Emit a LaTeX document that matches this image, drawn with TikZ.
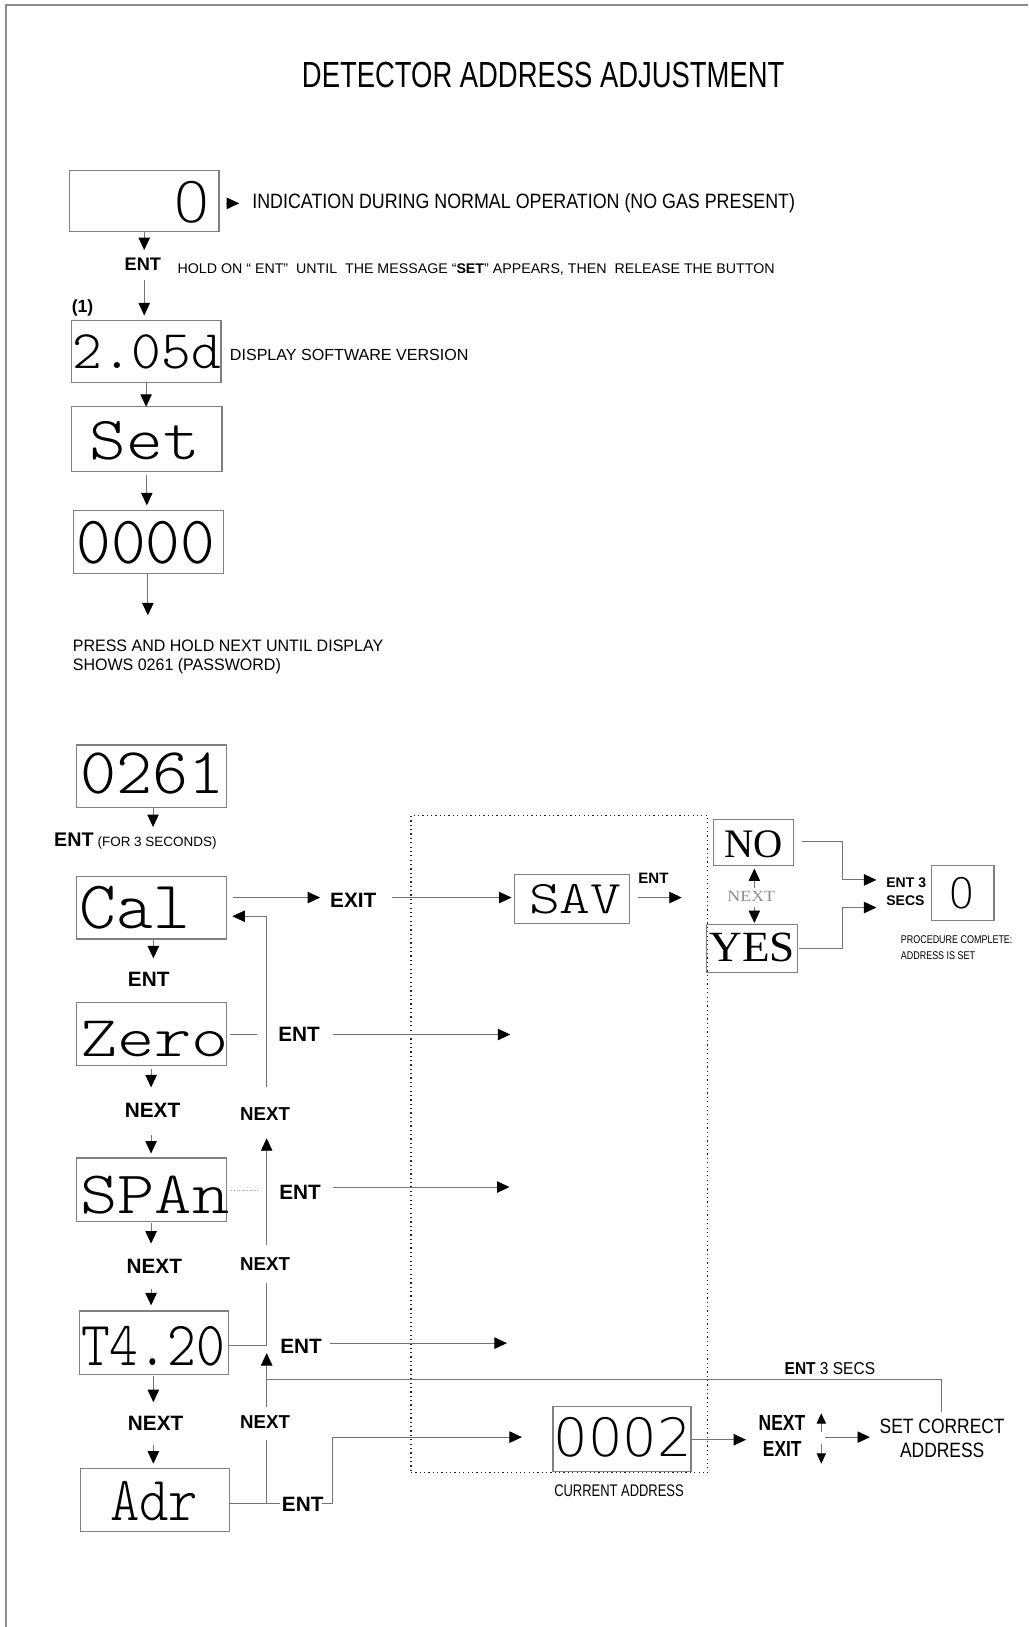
\documentclass[tikz,border=0pt]{standalone}
\usepackage{fontspec}
\usepackage{graphicx}
\usetikzlibrary{arrows.meta}
\setmainfont{Liberation Sans}
\newfontfamily\seriff{Liberation Serif}
\IfFontExistsTF{lmmonolt10-regular.otf}{\newfontfamily\dispf{lmmonolt10-regular.otf}}{\newfontfamily\dispf{Latin Modern Mono}}
\IfFontExistsTF{DejaVu Sans ExtraLight}{\newfontfamily\thinf{DejaVu Sans ExtraLight}}{\newfontfamily\thinf{Liberation Sans}}
\newcommand\fs[1]{\fontsize{#1}{#1}\selectfont}
\newcommand\sx[2]{\scalebox{#1}[1]{#2}}
\definecolor{boxgray}{gray}{0.5}
\definecolor{linegray}{gray}{0.45}
\definecolor{framegray}{gray}{0.55}
\begin{document}
\begin{tikzpicture}[x=1pt,y=-1pt,
  box/.style={draw=boxgray,line width=1.1pt,inner sep=0pt},
  lab/.style={inner sep=0pt,anchor=base west},
  labc/.style={inner sep=0pt,anchor=base},
  con/.style={draw=linegray,line width=0.9pt},
  arr/.style={con,-{Triangle[length=12pt,width=11pt,color=black]}},
  sarr/.style={con,-{Triangle[length=10pt,width=9pt,color=black]}},
  grpstyle/.style={draw=black!85,line width=1.4pt,dash pattern=on 1.2pt off 3pt,inner sep=0pt}
]
\useasboundingbox (0,0) rectangle (991,1568);
\draw[framegray,line width=1.5pt] (6,1568) -- (6,5) -- (991,5);

% title
\node[labc] (title) at (523.5,84.8) {\fs{35}\sx{0.755}{DETECTOR ADDRESS ADJUSTMENT}};

% upper column boxes
\node[box,minimum width=144pt,minimum height=59pt] (A) at (139,193.5) {};
\node[labc] (Atext) at (185,214) {\thinf\fs{53.5}\sx{1.1}{0}};
\node[box,minimum width=144pt,minimum height=60pt] (B) at (141,338.5) {};
\node[labc] (Btext) at (141.4,355) {\dispf\fs{52.4}\sx{1.04}{2.05d}};
\node[box,minimum width=145pt,minimum height=62pt] (C) at (141.5,423) {};
\node[labc] (Ctext) at (139.5,443) {\dispf\fs{59}\sx{1.14}{Set}};
\node[box,minimum width=144pt,minimum height=61pt] (D) at (143,522.5) {};
\node[labc] (Dtext) at (140.5,543) {\dispf\fs{65.5}\sx{0.97}{0000}};

% upper labels
\node[lab] (ind) at (243,201) {\fs{20}\sx{0.86}{INDICATION DURING NORMAL OPERATION (NO GAS PRESENT)}};
\node[lab] (entA) at (120,261) {\bfseries\fs{17.5}ENT};
\node[lab] (hold) at (171,264) {\fs{13.5}\sx{1.015}{HOLD ON “ ENT”\ \ UNTIL\ \ THE MESSAGE “\textbf{SET}” APPEARS, THEN\ \ RELEASE THE BUTTON}};
\node[lab] (one) at (69,301) {\bfseries\fs{17}(1)};
\node[lab] (disp) at (221.4,347.7) {\fs{15.5}DISPLAY SOFTWARE VERSION};
\node[lab] (press1) at (70,628) {\fs{16}\sx{0.965}{PRESS AND HOLD NEXT UNTIL DISPLAY}};
\node[lab] (press2) at (70,646) {\fs{16}\sx{0.965}{SHOWS 0261 (PASSWORD)}};

% upper connectors
\coordinate (ptri1) at (218,196); \coordinate (ptri2) at (230.5,196);
\draw[arr] (ptri1) -- (ptri2);
\coordinate (p1) at (139,241);
\draw[arr] (A.south) -- (p1);
\coordinate (p2) at (139,270); \coordinate (p3) at (139,304);
\draw[arr] (p2) -- (p3);
\coordinate (p4) at (140.8,369); \coordinate (p5) at (140.8,392);
\draw[arr] (p4) -- (p5);
\coordinate (p6) at (141.5,458); \coordinate (p7) at (141.5,487);
\draw[arr] (p6) -- (p7);
\coordinate (p8) at (142.5,553); \coordinate (p9) at (142.5,593);
\draw[arr] (p8) -- (p9);

% lower column boxes
\node[box,minimum width=144.5pt,minimum height=60pt] (E) at (146.25,748) {};
\node[labc] (Etext) at (147,764.6) {\dispf\fs{63}\sx{1.05}{0261}};
\node[box,minimum width=144.5pt,minimum height=60pt] (F) at (146.25,875) {};
\node[labc] (Ftext) at (130,895) {\dispf\fs{65.5}\sx{1.03}{Cal}};
\node[box,minimum width=144.5pt,minimum height=61pt] (G) at (146.25,996.5) {};
\node[labc] (Gtext) at (149,1018) {\dispf\fs{55.6}\sx{1.23}{Zero}};
\node[box,minimum width=144.5pt,minimum height=61pt] (H) at (146.25,1146.5) {};
\node[labc] (Htext) at (149.3,1169.6) {\dispf\fs{58}\sx{1.18}{SPAn}};
\node[box,minimum width=143.5pt,minimum height=61pt] (I) at (148.25,1294) {};
\node[labc] (Itext) at (147.5,1316) {\dispf\fs{60.6}\sx{0.87}{T4.20}};
\node[box,minimum width=143pt,minimum height=60.6pt] (J) at (149.4,1445.3) {};
\node[labc] (Jtext) at (148.7,1465.4) {\dispf\fs{60.6}\sx{0.89}{Adr}};

% right boxes
\node[grpstyle,minimum width=286pt,minimum height=633pt] (grp) at (539,1102.5) {};
\node[box,minimum width=111.4pt,minimum height=47.4pt] (K) at (551.3,866.3) {};
\node[labc] (Ktext) at (554.5,880.5) {\dispf\fs{45}\sx{1.26}{SAV}};
\node[box,minimum width=76.5pt,minimum height=44pt] (L) at (726.25,812) {};
\node[labc] (Ltext) at (726,826) {\seriff\fs{39}NO};
\node[box,minimum width=87.5pt,minimum height=46pt] (M) at (724.75,914) {};
\node[labc] (Mtext) at (724.8,927) {\seriff\fs{41.5}\sx{1.05}{YES}};
\node[box,minimum width=60pt,minimum height=53pt] (N) at (928,860.5) {};
\node[labc] (Ntext) at (926.5,875.5) {\thinf\fs{40.5}\sx{1.0}{0}};
\node[box,minimum width=133pt,minimum height=63pt] (O) at (599.5,1387) {};
\node[labc] (Otext) at (600.4,1404) {\thinf\fs{50.8}\sx{1.03}{0002}};

% lower labels
\node[lab] (entE) at (52,816) {\bfseries\fs{19}ENT};
\node[lab] (for3) at (93.8,816) {\fs{13}(FOR 3 SECONDS)};
\node[lab] (exit) at (318,875) {\bfseries\fs{20}EXIT};
\node[labc] (entF) at (143.3,950.5) {\bfseries\fs{20}ENT};
\node[labc] (nextG) at (147,1076.6) {\bfseries\fs{20}NEXT};
\node[labc] (nextH) at (148.7,1227) {\bfseries\fs{20}NEXT};
\node[labc] (nextI) at (150,1379) {\bfseries\fs{20}NEXT};
\node[lab] (entG) at (268,1004) {\bfseries\fs{20}ENT};
\node[lab] (entH) at (269,1156) {\bfseries\fs{20}ENT};
\node[lab] (entI) at (270,1304.7) {\bfseries\fs{20}ENT};
\node[lab] (entJ) at (271.5,1457) {\bfseries\fs{20}ENT};
\node[labc] (nv1) at (255.5,1080) {\bfseries\fs{18}NEXT};
\node[labc] (nv2) at (255.5,1224) {\bfseries\fs{18}NEXT};
\node[labc] (nv3) at (255.5,1376.7) {\bfseries\fs{18}NEXT};
\node[lab] (entK) at (615,851.5) {\bfseries\fs{14.5}ENT};
\node[labc,text=black!45] (nextLM) at (724,869) {\seriff\fs{15}\sx{1.15}{NEXT}};
\node[lab] (ent3) at (854,855) {\bfseries\fs{13.5}ENT 3};
\node[lab] (secs) at (854,873) {\bfseries\fs{13.5}SECS};
\node[lab] (proc1) at (868,909) {\fs{10.8}\sx{0.8}{PROCEDURE COMPLETE:}};
\node[lab] (proc2) at (868,924.6) {\fs{10.8}\sx{0.8}{ADDRESS IS SET}};
\node[lab] (ent3s) at (756,1324.5) {\fs{16.6}\sx{0.9}{\textbf{ENT} 3 SECS}};
\node[lab] (nextO) at (731,1379) {\bfseries\fs{21}\sx{0.8}{NEXT}};
\node[lab] (exitO) at (735,1403.5) {\bfseries\fs{21}\sx{0.8}{EXIT}};
\node[labc] (setc1) at (908,1381.6) {\fs{20}\sx{0.84}{SET CORRECT}};
\node[labc] (setc2) at (908,1405) {\fs{20}\sx{0.84}{ADDRESS}};
\node[lab] (curr) at (534,1442.3) {\fs{16.2}\sx{0.77}{CURRENT ADDRESS}};

% lower connectors
\coordinate (q1) at (147.5,778); \coordinate (q2) at (147.5,797);
\draw[arr] (q1) -- (q2);
\coordinate (q3) at (225,865); \coordinate (q4) at (308.5,865);
\draw[arr] (q3) -- (q4);
\coordinate (q5) at (377.6,865); \coordinate (q6) at (493,865);
\draw[arr] (q5) -- (q6);
\coordinate (q7) at (615,865); \coordinate (q8) at (657,865);
\draw[arr] (q7) -- (q8);
\coordinate (v0) at (257,883); \coordinate (q9) at (224,883);
\draw[arr] (v0) -- (q9);
\coordinate (v1) at (257,1048);
\draw[con] (v1) -- (v0);
\coordinate (q10) at (147.8,906); \coordinate (q11) at (147.8,923.6);
\draw[arr] (q10) -- (q11);
% Zero
\coordinate (z1) at (222,997); \coordinate (z2) at (247.5,997);
\draw[con] (z1) -- (z2);
\coordinate (z3) at (321,997); \coordinate (z4) at (491.7,997);
\draw[arr] (z3) -- (z4);
\coordinate (z5) at (145.6,1030); \coordinate (z6) at (145.6,1048);
\draw[arr] (z5) -- (z6);
\coordinate (z7) at (145.6,1094); \coordinate (z8) at (145.6,1111.7);
\draw[arr] (z7) -- (z8);
\coordinate (v2) at (257,1200); \coordinate (v3) at (257,1097);
\draw[arr] (v2) -- (v3);
% SPAn
\coordinate (s1) at (223,1147); \coordinate (s2) at (249,1147);
\draw[con,draw=black!40,dash pattern=on 1pt off 1.5pt] (s1) -- (s2);
\coordinate (s3) at (321,1144); \coordinate (s4) at (491,1144);
\draw[arr] (s3) -- (s4);
\coordinate (s5) at (145.6,1179); \coordinate (s6) at (145.6,1198.5);
\draw[arr] (s5) -- (s6);
\coordinate (s7) at (145.6,1242); \coordinate (s8) at (145.6,1258);
\draw[arr] (s7) -- (s8);
% T4.20
\coordinate (t1) at (220,1296.6); \coordinate (v4) at (257,1296.6); \coordinate (v5) at (257,1236);
\draw[con] (t1) -- (v4) -- (v5);
\coordinate (t3) at (318,1294.4); \coordinate (t4) at (488.5,1294.4);
\draw[arr] (t3) -- (t4);
\coordinate (t5) at (147.8,1326); \coordinate (t6) at (147.8,1351.3);
\draw[arr] (t5) -- (t6);
\coordinate (t7) at (147.8,1393); \coordinate (t8) at (147.8,1410.6);
\draw[arr] (t7) -- (t8);
\coordinate (v6) at (257,1356); \coordinate (v7) at (257,1304);
\draw[arr] (v6) -- (v7);
\coordinate (h1) at (257,1329); \coordinate (h2) at (907,1329); \coordinate (h3) at (907,1361);
\draw[con] (h1) -- (h2) -- (h3);
% Adr
\coordinate (a1) at (221,1449); \coordinate (a2) at (270,1449);
\draw[con] (a1) -- (a2);
\coordinate (v8) at (257,1449); \coordinate (v9) at (257,1388);
\draw[con] (v8) -- (v9);
\coordinate (a3) at (310,1449); \coordinate (a4) at (320.7,1449); \coordinate (a5) at (320.7,1385); \coordinate (a6) at (503,1385);
\draw[arr] (a3) -- (a4) -- (a5) -- (a6);
% 0002
\coordinate (o1) at (667,1387.5); \coordinate (o2) at (719,1387.5);
\draw[arr] (o1) -- (o2);
\coordinate (o3) at (791.5,1380); \coordinate (o4) at (791.5,1362);
\draw[sarr] (o3) -- (o4);
\coordinate (o5) at (791.5,1392); \coordinate (o6) at (791.5,1410.6);
\draw[sarr] (o5) -- (o6);
\coordinate (o7) at (794.6,1385); \coordinate (o8) at (838.4,1385);
\draw[arr] (o7) -- (o8);
% NO / YES
\coordinate (n1) at (772.7,811.4); \coordinate (n2) at (811.8,811.4); \coordinate (n3) at (811.8,848); \coordinate (n4) at (844.6,848);
\draw[arr] (n1) -- (n2) -- (n3) -- (n4);
\coordinate (y1) at (770,914); \coordinate (y2) at (811.8,914); \coordinate (y3) at (811.8,874.6); \coordinate (y4) at (844.6,874.6);
\draw[arr] (y1) -- (y2) -- (y3) -- (y4);
\coordinate (d1) at (727,856); \coordinate (d2) at (727,837);
\draw[arr] (d1) -- (d2);
\coordinate (d3) at (727,874); \coordinate (d4) at (727,889.5);
\draw[arr] (d3) -- (d4);
\end{tikzpicture}
\end{document}
